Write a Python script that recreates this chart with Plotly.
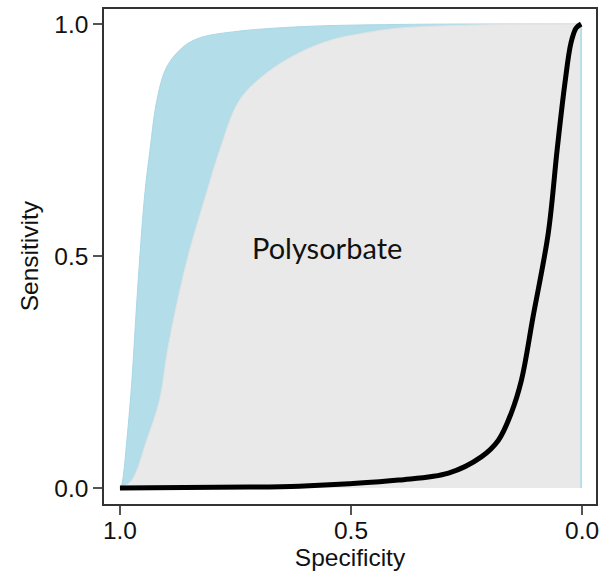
import plotly.graph_objects as go

# ROC curve (specificity, sensitivity)
roc_spec = [1.0, 0.720, 0.612, 0.504, 0.397, 0.289, 0.218, 0.181, 0.153, 0.131,
            0.106, 0.073, 0.054, 0.037, 0.024, 0.013, 0.002]
roc_sens = [0.0, 0.002, 0.004, 0.009, 0.017, 0.032, 0.067, 0.103, 0.162, 0.233,
            0.369, 0.550, 0.728, 0.873, 0.959, 0.991, 1.0]

# Confidence band: outer (upper) boundary
outer_spec = [0.998, 0.994, 0.985, 0.974, 0.966, 0.957, 0.946, 0.935, 0.920, 0.899,
              0.864, 0.828, 0.756, 0.612, 0.397, 0.0]
outer_sens = [0.0, 0.017, 0.103, 0.233, 0.362, 0.498, 0.636, 0.728, 0.836, 0.907,
              0.950, 0.970, 0.983, 0.994, 0.999, 1.0]

# Inner boundary (grey region)
inner_spec = [0.996, 0.974, 0.942, 0.914, 0.897, 0.875, 0.849, 0.817, 0.784, 0.741,
              0.683, 0.612, 0.541, 0.468, 0.397, 0.224, 0.004]
inner_sens = [0.0, 0.017, 0.103, 0.190, 0.297, 0.405, 0.513, 0.621, 0.728, 0.836,
              0.894, 0.938, 0.966, 0.981, 0.991, 0.998, 1.0]

tick_vals = [0.0, 0.5, 1.0]
tick_text = ["0.0", "0.5", "1.0"]
label_text = "Polysorbate"
x_title = "Specificity"
y_title = "Sensitivity"

FONT = "Liberation Sans"
FS = 24.5

fig = go.Figure()
fig.add_trace(go.Scatter(x=outer_spec, y=outer_sens, mode="lines", fill="tozeroy",
                         fillcolor="#b3dde9",
                         line=dict(color="#a9d8e6", width=1, shape="spline", smoothing=1),
                         hoverinfo="skip", showlegend=False))
fig.add_trace(go.Scatter(x=inner_spec, y=inner_sens, mode="lines", fill="tozeroy",
                         fillcolor="#e9e9e9",
                         line=dict(color="#e3e3e3", width=1, shape="spline", smoothing=1),
                         hoverinfo="skip", showlegend=False))
fig.add_trace(go.Scatter(x=roc_spec, y=roc_sens, mode="lines",
                         line=dict(color="black", width=5, shape="spline", smoothing=1),
                         showlegend=False))

fig.add_annotation(x=0.552, y=0.519, xref="x", yref="y", text=label_text,
                   showarrow=False, font=dict(family="Lato", size=29, color="#111111"))

# y-axis title as rotated annotation for precise placement
fig.add_annotation(x=-0.152, y=0.501, xref="paper", yref="paper", text=y_title,
                   textangle=-90, showarrow=False, xanchor="center", yanchor="middle",
                   font=dict(family=FONT, size=FS, color="#111111"))

axis_common = dict(showgrid=False, zeroline=False, showline=True, linecolor="#333333",
                   linewidth=1.5, mirror=True, ticks="outside", ticklen=9,
                   tickcolor="#555555", tickwidth=1.5, tickvals=tick_vals, ticktext=tick_text,
                   tickfont=dict(family=FONT, size=FS, color="#111111"))

fig.update_layout(
    width=600, height=573,
    margin=dict(l=104, r=2, t=9, b=69),
    paper_bgcolor="white", plot_bgcolor="white",
    xaxis=dict(range=[1.0345, -0.0302], title=dict(text=x_title, standoff=2,
               font=dict(family=FONT, size=FS, color="#111111")), **axis_common),
    yaxis=dict(range=[-0.0345, 1.0323], **axis_common),
)
try:
    fig.update_xaxes(ticklabelstandoff=-5)
except Exception:
    pass

fig.write_html("out.html", config={"displayModeBar": False},
               post_script="document.body.style.margin='0';document.body.style.padding='0';")
